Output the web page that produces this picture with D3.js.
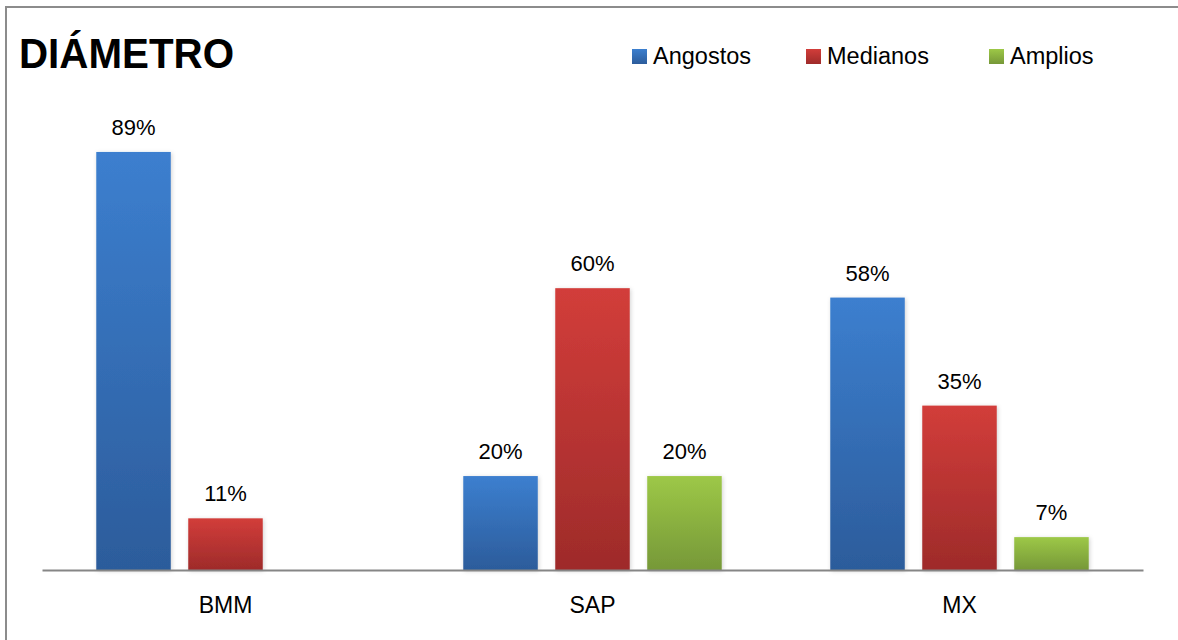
<!DOCTYPE html>
<html>
<head>
<meta charset="utf-8">
<script src="https://cdn.jsdelivr.net/npm/d3@7"></script>
<style>
  html, body { margin: 0; padding: 0; background: #fff; }
  svg { display: block; }
  text { font-family: "Liberation Sans", Arial, sans-serif; fill: #000; }
</style>
</head>
<body>
<svg id="chart" width="1178" height="640"></svg>
<script>
const categories = ["BMM", "SAP", "MX"];
const series = ["Angostos", "Medianos", "Amplios"];
const angostos = [0.89, 0.20, 0.58];
const medianos = [0.11, 0.60, 0.35];
const amplios = [null, 0.20, 0.07];
const seriesValues = [angostos, medianos, amplios];
const title = "DIÁMETRO";

const colors = {
  Angostos: ["#3c7fcf", "#2c5c9b"],
  Medianos: ["#d23d3a", "#9e2b2a"],
  Amplios: ["#9dc847", "#769838"]
};

const svg = d3.select("#chart");
const defs = svg.append("defs");

series.forEach((s, i) => {
  const g = defs.append("linearGradient")
    .attr("id", "grad" + i)
    .attr("x1", 0).attr("y1", 0).attr("x2", 0).attr("y2", 1);
  g.append("stop").attr("offset", "0%").attr("stop-color", colors[s][0]);
  g.append("stop").attr("offset", "100%").attr("stop-color", colors[s][1]);
});

const filt = defs.append("filter").attr("id", "shadow")
  .attr("x", "-20%").attr("y", "-20%").attr("width", "140%").attr("height", "140%");
filt.append("feDropShadow").attr("dx", 1).attr("dy", 1)
  .attr("stdDeviation", 2).attr("flood-color", "#000").attr("flood-opacity", 0.18);

// outer border
svg.append("rect")
  .attr("x", 6).attr("y", 7).attr("width", 1200).attr("height", 700)
  .attr("fill", "none").attr("stroke", "#8c8c8c").attr("stroke-width", 2);

const plotLeft = 42, plotRight = 1143, baseY = 570;

const x0 = d3.scaleBand().domain(categories).range([plotLeft, plotRight]).padding(0);
const x1 = d3.scaleBand().domain(series).range([0, x0.bandwidth()])
  .paddingInner(0.19).paddingOuter(0.59);
const y = d3.scaleLinear().domain([0, 1]).range([baseY, baseY - 469.7]);

const data = [];
categories.forEach((c, ci) => {
  series.forEach((s, si) => {
    const v = seriesValues[si][ci];
    if (v != null) data.push({ c, s, si, v });
  });
});

const bars = svg.append("g");
bars.selectAll("rect").data(data).join("rect")
  .attr("x", d => x0(d.c) + x1(d.s))
  .attr("y", d => y(d.v))
  .attr("width", x1.bandwidth())
  .attr("height", d => y(0) - y(d.v))
  .attr("fill", d => "url(#grad" + d.si + ")")
  .attr("filter", "url(#shadow)");

// value labels
svg.append("g").selectAll("text").data(data).join("text")
  .attr("x", d => x0(d.c) + x1(d.s) + x1.bandwidth() / 2)
  .attr("y", d => y(d.v) - 17)
  .attr("text-anchor", "middle")
  .attr("font-size", 22)
  .text(d => d3.format(".0%")(d.v));

// axis
const xAxis = d3.axisBottom(x0).tickSize(0).tickPadding(26);
const axG = svg.append("g").attr("transform", `translate(0,${baseY})`).call(xAxis);
axG.select(".domain").attr("stroke", "#868686").attr("stroke-width", 2);
axG.selectAll(".tick text").attr("font-size", 23)
  .attr("font-family", "Liberation Sans, Arial, sans-serif").attr("fill", "#000")
  .attr("dy", "0");
axG.selectAll(".tick text").attr("y", 43);

// title
svg.append("text")
  .attr("x", 19).attr("y", 68)
  .attr("font-size", 43).attr("font-weight", "bold")
  .attr("textLength", 215).attr("lengthAdjust", "spacingAndGlyphs")
  .text(title);

// legend
const legendX = [632, 806, 989];
const lg = svg.append("g");
series.forEach((s, i) => {
  lg.append("rect").attr("x", legendX[i]).attr("y", 49)
    .attr("width", 15).attr("height", 15)
    .attr("fill", "url(#grad" + i + ")");
  lg.append("text").attr("x", legendX[i] + 21).attr("y", 64)
    .attr("font-size", 23.5).text(s);
});
</script>
</body>
</html>
